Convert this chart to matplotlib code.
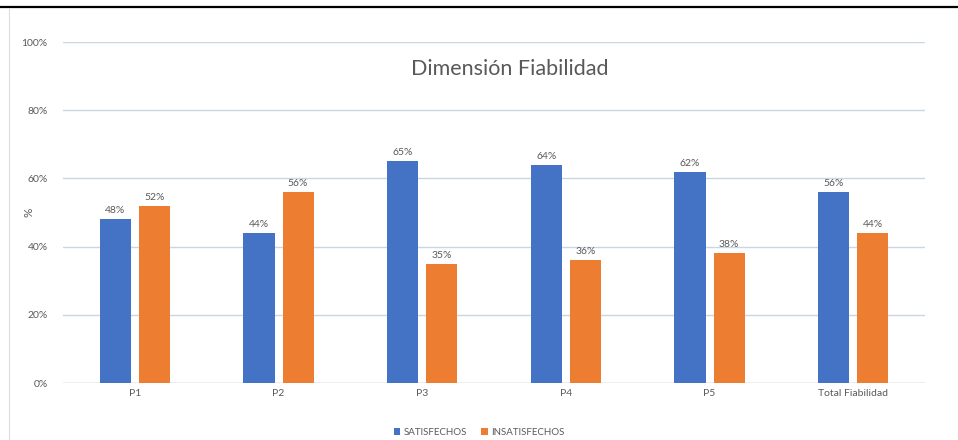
import numpy as np
import matplotlib.pyplot as plt
from matplotlib.lines import Line2D

# Porcentaje de satisfechos / insatisfechos por pregunta
categorias = ['P1', 'P2', 'P3', 'P4', 'P5', 'Total Fiabilidad']
satisfechos = [48, 44, 65, 64, 62, 56]
insatisfechos = [52, 56, 35, 36, 38, 44]

azul = '#4472C4'
naranja = '#ED7D31'
gris = '#595959'

plt.rcParams['font.family'] = ['Lato', 'DejaVu Sans']

fig = plt.figure(figsize=(9.58, 4.40), dpi=100)
ax = fig.add_axes([0.0658, 0.1295, 0.8998, 0.775])

x = np.arange(len(categorias))
ancho = 0.216
sep = 0.136

b1 = ax.bar(x - sep, satisfechos, ancho, color=azul, label='SATISFECHOS', zorder=3)
b2 = ax.bar(x + sep, insatisfechos, ancho, color=naranja, label='INSATISFECHOS', zorder=3)

for barras, vals in ((b1, satisfechos), (b2, insatisfechos)):
    for b, v in zip(barras, vals):
        ax.text(b.get_x() + b.get_width() / 2, v + 1.2, f'{v}%', ha='center', va='bottom',
                fontsize=7.5, color=gris)

ax.set_xlim(-0.5, len(categorias) - 0.5)
ax.set_ylim(0, 100)
ax.set_yticks(range(0, 101, 20))
ax.set_yticklabels([f'{t}%' for t in range(0, 101, 20)])
ax.set_xticks(x)
ax.set_xticklabels(categorias)
ax.tick_params(axis='both', length=0, labelsize=7.5, colors=gris)
ax.tick_params(axis='y', pad=11)
ax.tick_params(axis='x', pad=4)
ax.grid(axis='y', color='#C9D6E3', linewidth=1, zorder=0)
for s in ax.spines.values():
    s.set_visible(False)
ax.axhline(0, color='#C9D6E3', linewidth=1, zorder=1)

ax.set_ylabel('%', fontsize=8.5, color=gris)
ax.yaxis.set_label_coords(-0.033, 0.5)

fig.text(0.532, 0.843, 'Dimensión Fiabilidad', ha='center', va='center', fontsize=15.5, color=gris)

# marco superior e izquierdo
fig.add_artist(Line2D([0, 1], [0.984, 0.984], color='black', linewidth=1.6))
fig.add_artist(Line2D([0.0094, 0.0094], [0, 0.982], color='#DDDDDD', linewidth=0.8))

fig.legend(handles=[b1, b2], loc='center', bbox_to_anchor=(0.5, 0.018), ncol=2, frameon=False,
           fontsize=7, labelcolor=gris, handlelength=0.7, handleheight=0.7,
           handletextpad=0.3, columnspacing=1.5)

fig.savefig('out.png', dpi=100)
